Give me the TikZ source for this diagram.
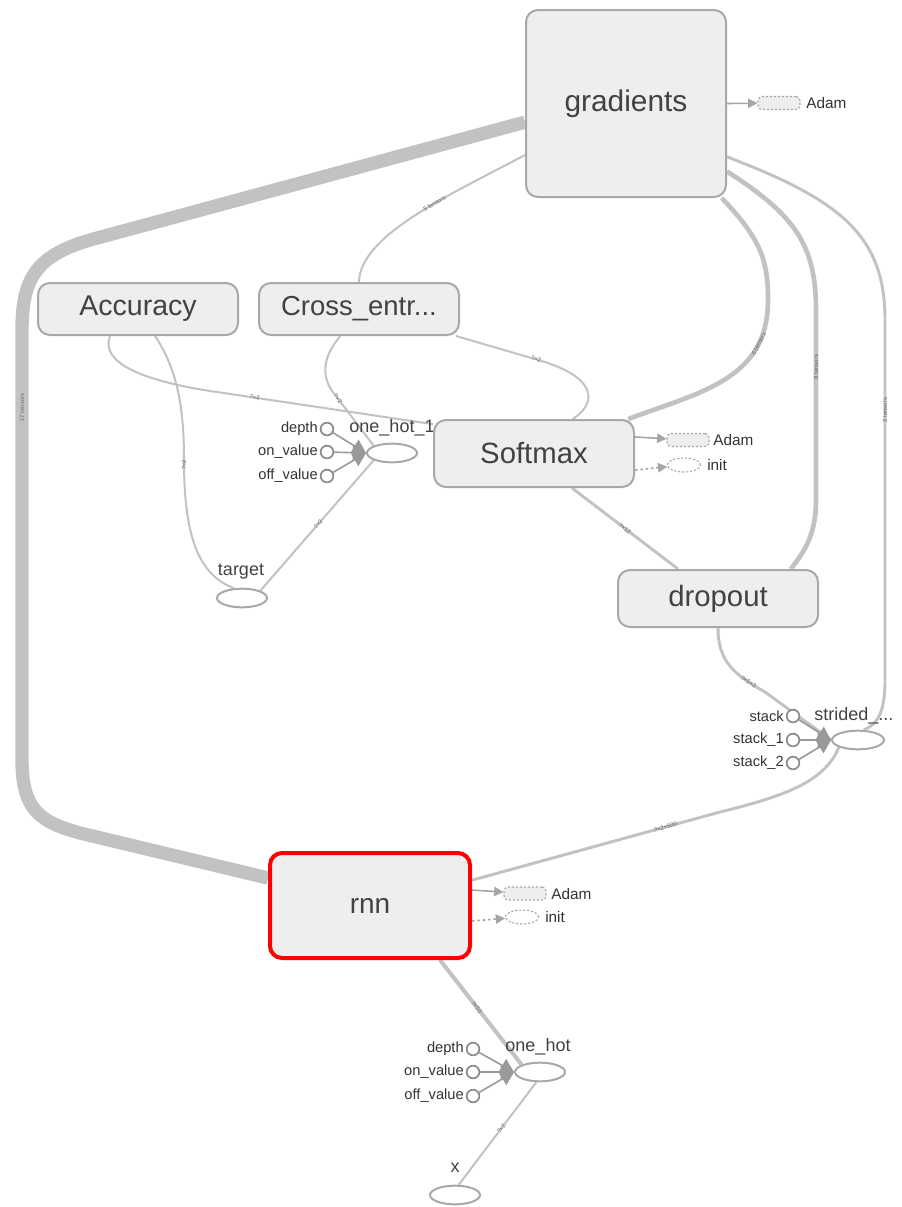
\documentclass[tikz,border=0pt]{standalone}
\usepackage{fontspec}
\setmainfont{Liberation Sans}
\usetikzlibrary{arrows.meta,shapes.geometric}
\definecolor{boxfill}{HTML}{EEEEEE}
\definecolor{boxline}{HTML}{A8A8A8}
\definecolor{edgegray}{HTML}{C2C2C2}
\definecolor{txt}{HTML}{424242}
\pgfdeclarelayer{edges}
\pgfsetlayers{edges,main}
\begin{document}
\begin{tikzpicture}[x=0.75pt,y=-0.75pt,
  meta/.style={draw=boxline, line width=1.5pt, fill=boxfill, rounded corners=9pt,
    minimum width=150pt, inner sep=0pt, font=\fontsize{21}{21}\selectfont, text=txt},
  op/.style={ellipse, draw=boxline, line width=1.5pt, fill=white,
    minimum width=37.5pt, minimum height=14pt, inner sep=0pt},
  oplabel/.style={font=\fontsize{13.5}{13.5}\selectfont, text=txt, inner sep=0pt},
  const/.style={circle, draw=black!45, line width=1.3pt, fill=white,
    minimum size=9.5pt, inner sep=0pt},
  clabel/.style={font=\fontsize{11}{11}\selectfont, text=black!80, anchor=east, inner sep=0pt},
  slabel/.style={font=\fontsize{11.5}{11.5}\selectfont, text=black!80, anchor=west, inner sep=0pt},
  auxbox/.style={draw=black!35, dash pattern=on 1.6pt off 1.4pt, line width=0.8pt,
    fill=boxfill, rounded corners=3pt, minimum width=31.5pt, minimum height=9.75pt, inner sep=0pt},
  auxinit/.style={ellipse, draw=black!35, dash pattern=on 1.6pt off 1.4pt, line width=0.8pt,
    fill=white, minimum width=25pt, minimum height=10.5pt, inner sep=0pt},
  flow/.style={draw=edgegray, line width=1.5pt},
  cin/.style={draw=black!40, line width=1.2pt, -{Triangle[length=10pt,width=11pt]}},
  side/.style={draw=black!35, line width=1.2pt, -{Triangle[length=7pt,width=7pt]}},
  elab/.style={font=\fontsize{4.5}{4.5}\selectfont, text=black!60, inner sep=0.5pt}
]
\useasboundingbox (0,0) rectangle (901,1207);

% ---- op labels drawn first so that boxes may cover them
\node[oplabel] (onehot1lbl) at (392,428) {one\_hot\_1};
\node[oplabel] (targetlbl) at (241,572) {target};
\node[oplabel, anchor=west] (stridedlbl) at (814,716) {strided\_...};
\node[oplabel] (onehotlbl) at (538,1047) {one\_hot};
\node[oplabel] (xlbl) at (455,1168) {x};

% ---- op nodes
\node[op] (onehot1) at (392,453) {};
\node[op] (target) at (242,598) {};
\node[op, minimum width=39pt] (strided) at (858,740) {};
\node[op] (onehot) at (540,1072) {};
\node[op] (x) at (455,1195) {};

% ---- metanodes
\node[meta, minimum height=140.25pt, font=\fontsize{22.4}{22.4}\selectfont] (gradients) at (626,103.5) {gradients};
\node[meta, minimum height=39pt, font=\fontsize{21.4}{21.4}\selectfont] (accuracy) at (138,309) {Accuracy};
\node[meta, minimum height=39pt, font=\fontsize{20.6}{20.6}\selectfont] (cross) at (359,309) {Cross\_entr...};
\node[meta, minimum height=50.25pt, font=\fontsize{22}{22}\selectfont] (softmax) at (534,453.5) {Softmax};
\node[meta, minimum height=42.75pt, font=\fontsize{22}{22}\selectfont] (dropout) at (718,598.5) {dropout};
\node[meta, minimum height=78.75pt, draw=red, line width=3pt] (rnn) at (370,905.5) {rnn};

% ---- constant inputs
\node[const] (d1) at (327,429) {};
\node[const] (on1) at (327,452) {};
\node[const] (off1) at (327,476) {};
\node[clabel] (d1l) at (318,429) {depth};
\node[clabel] (on1l) at (318,452) {on\_value};
\node[clabel] (off1l) at (318,476) {off\_value};

\node[const] (s0) at (793,716) {};
\node[const] (s1) at (793,740) {};
\node[const] (s2) at (793,763) {};
\node[clabel] (s0l) at (784,716) {stack};
\node[clabel] (s1l) at (784,740) {stack\_1};
\node[clabel] (s2l) at (784,763) {stack\_2};

\node[const] (d2) at (473,1049) {};
\node[const] (on2) at (473,1072) {};
\node[const] (off2) at (473,1096) {};
\node[clabel] (d2l) at (464,1049) {depth};
\node[clabel] (on2l) at (464,1072) {on\_value};
\node[clabel] (off2l) at (464,1096) {off\_value};

% ---- auxiliary Adam / init nodes
\node[auxbox] (gadam) at (779,103) {};
\node[slabel] (gadaml) at (806,103) {Adam};
\node[auxbox] (sadam) at (688,440) {};
\node[slabel] (sadaml) at (713,440) {Adam};
\node[auxinit] (sinit) at (684,465) {};
\node[slabel] (sinitl) at (707,465) {init};
\node[auxbox] (radam) at (525,893.5) {};
\node[slabel] (radaml) at (551,894) {Adam};
\node[auxinit] (rinit) at (522,917) {};
\node[slabel] (rinitl) at (545,917) {init};

\begin{pgfonlayer}{edges}
% gradients -> rnn, the heavy bundle
\draw[flow, line width=10pt] ([yshift=-14pt]gradients.west) -- (90,240)
  .. controls (35,256) and (22,280) .. (22,330)
  -- node[elab, rotate=90, pos=0.18, text=black!55] {17 tensors} (22,760)
  .. controls (22,810) and (40,822) .. (80,833) -- ([yshift=20.6pt]rnn.west);
% gradients -> Cross_entropy
\draw[flow] ([yshift=-38.6pt]gradients.west) .. controls (450,195) and (360,235)
  .. node[elab, sloped, pos=0.4] {5 tensors} (cross.north);
% gradients -> Softmax
\draw[flow, line width=3.5pt] ([xshift=-4pt]gradients.south east)
  .. controls (762,240) and (768,262) .. (768,300)
  .. controls (768,380) and (700,392) .. node[elab, sloped, pos=0.22] {6 tensors} ([xshift=-5pt]softmax.north east);
% gradients -> dropout
\draw[flow, line width=3.5pt] ([yshift=-51pt]gradients.east)
  .. controls (795,215) and (816,245) .. (816,310)
  -- node[elab, rotate=90, pos=0.3] {8 tensors} (816,500)
  .. controls (816,540) and (800,556) .. ([xshift=-21pt]dropout.north east);
% gradients -> strided_slice
\draw[flow, line width=2.2pt] ([yshift=-40pt]gradients.east)
  .. controls (840,200) and (885,235) .. (885,320)
  -- node[elab, rotate=90, pos=0.25] {2 tensors} (885,680)
  .. controls (885,712) and (878,724) .. (strided.60);
% Accuracy -> Softmax
\draw[flow] ([xshift=-21pt]accuracy.south) .. controls (100,362) and (140,380) .. (210,391)
  -- node[elab, sloped, pos=0.2] {?×2} ([yshift=22pt]softmax.west);
% Accuracy -> target
\draw[flow] ([xshift=12.75pt]accuracy.south) .. controls (178,370) and (184,410) .. (184,460)
  .. controls (184,540) and (200,575) .. node[elab, rotate=90, pos=0.02] {?×2} (target.130);
% Cross_entropy -> one_hot_1
\draw[flow] ([xshift=-14pt]cross.south) .. controls (320,360) and (322,380) .. (336,396)
  -- node[elab, sloped, pos=0.05] {?×2} (onehot1.north west);
% Cross_entropy -> Softmax
\draw[flow] ([xshift=-3pt]cross.south east) -- node[elab, sloped, pos=0.9] {?×2} (545,362)
  .. controls (600,380) and (595,405) .. ([xshift=29pt]softmax.north);
% one_hot_1 -> target
\draw[flow] (onehot1.south west) -- node[elab, sloped, pos=0.49] {?×2} (target.north east);
% Softmax -> dropout
\draw[flow, line width=2.2pt] ([xshift=28.5pt]softmax.south) -- node[elab, sloped] {?×12} ([xshift=-30pt]dropout.north);
% dropout -> strided_slice
\draw[flow, line width=2.2pt] (dropout.south) .. controls (718,662) and (735,675) .. (765,692)
  -- (strided.west);
\path (dropout.south) .. controls (718,662) and (735,675) .. node[elab, sloped, pos=0.8] {?×5×2} (765,692);
% strided_slice -> rnn
\draw[flow, line width=2.2pt] (strided.south west) .. controls (825,780) and (790,795) .. (720,812)
  -- node[elab, sloped, pos=0.22] {?×2×500} ([yshift=19pt]rnn.east);
% rnn -> one_hot
\draw[flow, line width=3pt] ([xshift=52.5pt]rnn.south) -- node[elab, sloped, pos=0.45] {?×50} (onehot.north west);
% one_hot -> x
\draw[flow] (onehot.250) -- node[elab, sloped, pos=0.45] {?×2} (x.70);

% constant inputs
\draw[cin] (d1) -- (onehot1.west);
\draw[cin] (on1) -- (onehot1.west);
\draw[cin] (off1) -- (onehot1.west);
\draw[cin] (s0) -- (strided.west);
\draw[cin] (s1) -- (strided.west);
\draw[cin] (s2) -- (strided.west);
\draw[cin] (d2) -- (onehot.west);
\draw[cin] (on2) -- (onehot.west);
\draw[cin] (off2) -- (onehot.west);

% auxiliary edges
\draw[side] (gradients.east) -- (gadam);
\draw[side] ([yshift=12.4pt]softmax.east) -- (sadam);
\draw[side, dash pattern=on 2pt off 2pt] ([yshift=-12.4pt]softmax.east) -- (sinit);
\draw[side] ([yshift=11.6pt]rnn.east) -- (radam);
\draw[side, dash pattern=on 2pt off 2pt] ([yshift=-11.6pt]rnn.east) -- (rinit);
\end{pgfonlayer}
\end{tikzpicture}
\end{document}
